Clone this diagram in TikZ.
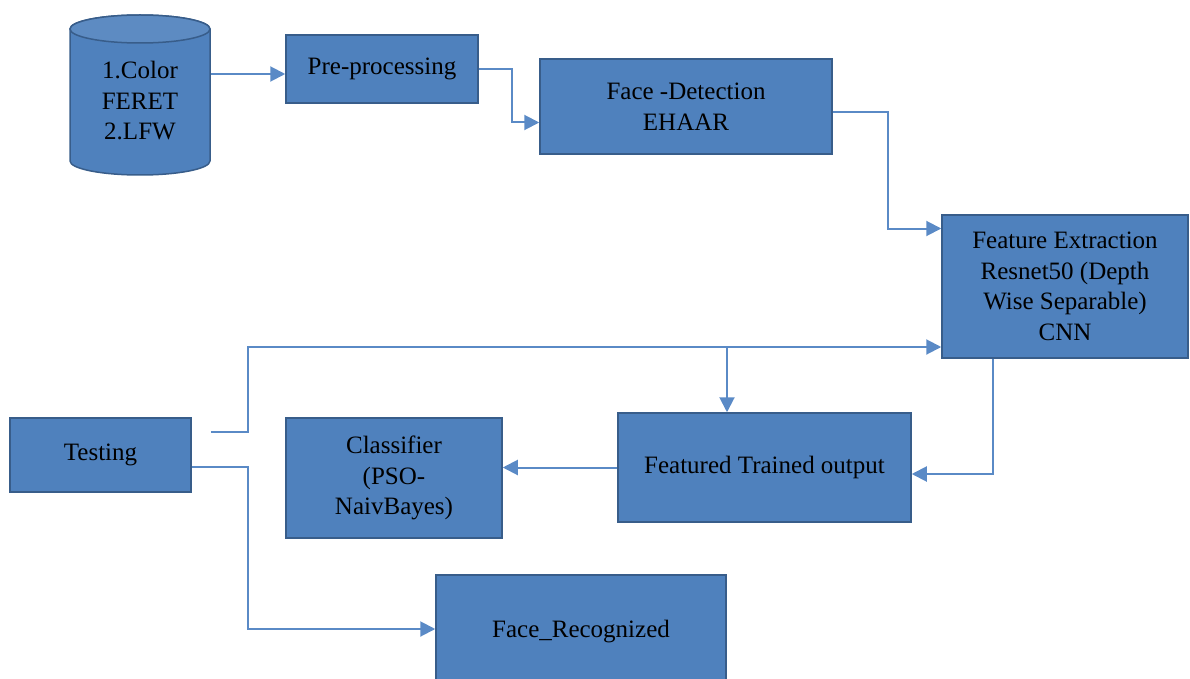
\documentclass[tikz,border=0pt]{standalone}
\usepackage{fontspec}
\setmainfont{Liberation Serif}
\usetikzlibrary{arrows.meta,calc}
\definecolor{boxblue}{HTML}{4F81BD}
\definecolor{boxedge}{HTML}{385D8A}
\definecolor{lineblue}{HTML}{5A8AC6}

\begin{document}
\begin{tikzpicture}[x=1pt,y=-1pt,
        box/.style={draw=boxedge, line width=1.5pt, fill=boxblue, align=center,
            inner sep=0pt, font=\fontsize{25}{30.5}\selectfont},
        arr/.style={draw=lineblue, line width=2pt, -{Triangle[length=15pt,width=15pt]}}]
    \useasboundingbox (0,0) rectangle (1190,679);

    % data set (cylinder)
    \filldraw[draw=boxedge, line width=1.5pt, fill=boxblue]
        (70,29) -- (70,161) arc[start angle=180, end angle=0, x radius=70, y radius=14]
        -- (210,29) arc[start angle=0, end angle=-180, x radius=70, y radius=14] -- cycle;
    \filldraw[draw=boxedge, line width=1.5pt, fill=boxblue!92!white]
        (140,29) ellipse[x radius=70, y radius=14];
    \node[align=center, font=\fontsize{25}{30.5}\selectfont] (db) at (140,101) {1.Color\\FERET\\2.LFW};
    \coordinate (dbout) at (211,74);

    \node[box, minimum width=192pt, minimum height=68pt] (pre) at (382,69) {Pre-processing};
    \node[box, minimum width=292pt, minimum height=95pt] (det) at (686,106.5) {Face -Detection\\EHAAR};
    \node[box, minimum width=246pt, minimum height=143pt] (feat) at (1065,286.5)
        {Feature Extraction\\Resnet50 (Depth\\Wise Separable)\\CNN};
    \node[box, minimum width=293pt, minimum height=109pt] (trained) at (764.5,467.5) {Featured Trained output};
    \node[box, minimum width=216pt, minimum height=120pt] (clf) at (394,478) {Classifier\\(PSO-\\NaivBayes)};
    \node[box, minimum width=181pt, minimum height=74pt] (test) at (100.5,455) {Testing};
    \node[box, minimum width=290pt, minimum height=114pt] (recog) at (581,632) {Face\_Recognized};

    \draw[arr] (dbout) -- (dbout -| pre.west);
    \draw[arr] (pre.east) -- ++(33,0) |- ([yshift=-16pt]det.west);
    \draw[arr] ([yshift=-6pt]det.east) -- ++(55,0) |- ([yshift=58pt]feat.west);
    \draw[arr] ([xshift=-72pt]feat.south) |- ([yshift=-6.5pt]trained.east);
    \draw[arr] (trained.west) -- (trained.west -| clf.east);

    % testing branches
    \coordinate (tin) at ([xshift=19pt,yshift=23pt]test.east);
    \coordinate (split) at ($([yshift=-60.5pt]feat.west -| trained.north)+(-37.5,0)$);
    \draw[arr] (tin) -- ++(37,0) |- ([yshift=-60.5pt]feat.west);
    \draw[arr] (split) -- (split |- trained.north);
    \draw[arr] ([yshift=-12pt]test.east) -- ++(56,0) |- ([yshift=3pt]recog.west);
\end{tikzpicture}
\end{document}
